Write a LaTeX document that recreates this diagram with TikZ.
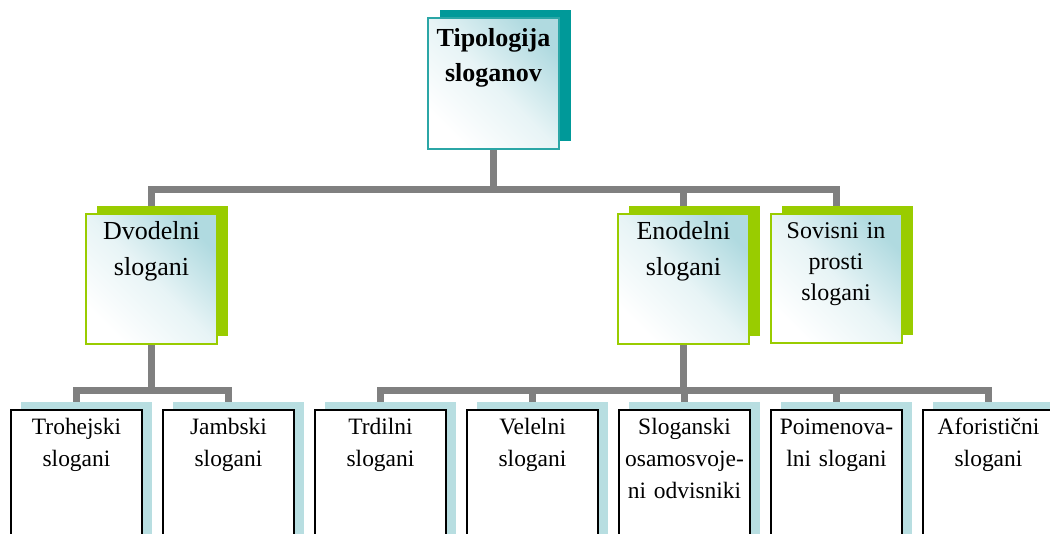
\documentclass[tikz,border=0pt]{standalone}
\usepackage{fontspec}
\setmainfont{Liberation Serif}
\usetikzlibrary{shadows,backgrounds}
\definecolor{conngray}{HTML}{808080}
\definecolor{tealsh}{HTML}{009999}
\definecolor{tealln}{HTML}{2BA6A6}
\definecolor{limegr}{HTML}{99CC00}
\definecolor{icebl}{HTML}{B8DEE1}
\definecolor{fadebl}{HTML}{B0DAE0}
\begin{document}
\begin{tikzpicture}[x=0.75pt,y=-0.75pt,
  conn/.style={draw=conngray,line width=5.25pt},
  box/.style={anchor=north,align=center,inner xsep=2pt,inner ysep=0pt,minimum width=98.25pt,text width=94pt,line width=1.5pt},
  fadefill/.style={top color=fadebl,bottom color=white,middle color=fadebl!30,shading angle=-45},
  rootbox/.style={box,fadefill,draw=tealln,copy shadow={shadow xshift=9pt,shadow yshift=6pt,fill=tealsh,draw=none},
    text height=21pt,text depth=77.25pt,font=\fontsize{19.5}{26.25}\selectfont\bfseries},
  midbox/.style={box,fadefill,draw=limegr,copy shadow={shadow xshift=8.25pt,shadow yshift=6pt,fill=limegr,draw=none},
    text height=18.75pt,text depth=78.75pt,font=\fontsize{19.5}{27}\selectfont},
  leafbox/.style={box,fill=white,draw=black,copy shadow={shadow xshift=7.5pt,shadow yshift=6pt,fill=icebl,draw=none},
    text height=18pt,text depth=95.25pt,font=\fontsize{17.6}{24}\selectfont}]
\useasboundingbox (0,0) rectangle (1050,533);
\clip (0,0) rectangle (1050,533);
% top and second row
\node[rootbox] (tip) at (493.5,17) {Tipologija\\sloganov};
\node[midbox] (dvo) at (151.5,213) {Dvodelni\\slogani};
\node[midbox] (eno) at (683.5,213) {Enodelni\\slogani};
\node[midbox,text height=18pt,font=\fontsize{18}{23.25}\selectfont] (sov) at (836,213) {Sovisni in\\prosti\\slogani};
% bottom row
\foreach \x/\n/\t in {76.5/tro/{Trohejski\\slogani},228.5/jam/{Jambski\\slogani},380.5/trd/{Trdilni\\slogani},
    532.5/vel/{Velelni\\slogani},684.5/slo/{Sloganski\\osamosvoje-\\ni odvisniki},
    836.5/poi/{Poimenova-\\lni slogani},988.5/afo/{Aforistični\\slogani}}
  \node[leafbox] (\n) at (\x,409) {\t};
\begin{scope}[on background layer]
  \fill[white] (0,0) rectangle (1050,533);
  \foreach \n in {dvo,eno,sov} \draw[conn] (tip.south) -- ++(0,39) -| (\n.north);
  \foreach \n in {tro,jam} \draw[conn] (dvo.south) -- ++(0,45) -| (\n.north);
  \foreach \n in {trd,vel,slo,poi,afo} \draw[conn] (eno.south) -- ++(0,45) -| (\n.north);
\end{scope}
\end{tikzpicture}
\end{document}
